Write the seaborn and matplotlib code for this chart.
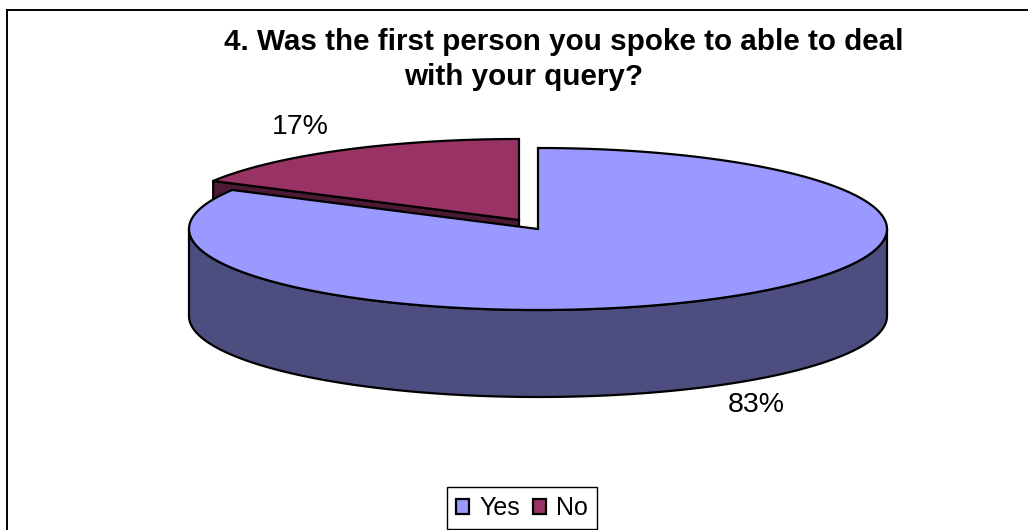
#!/usr/bin/env python3
"""3D style pie chart: was the first person able to deal with the query"""

import numpy as np
import matplotlib
matplotlib.use('Agg')
import matplotlib.pyplot as plt
from matplotlib.patches import Patch, Polygon
import seaborn as sns

labels = ['Yes', 'No']
shares = [83, 17]
share_text = ['83%', '17%']
title_lines = ['4. Was the first person you spoke to able to deal', 'with your query?']

colors = sns.color_palette(['#9999FF', '#993366'])
side_colors = sns.color_palette(['#4D4D80', '#4D1A33'])

sns.set_theme(style='white')
plt.rcParams['font.family'] = ['Liberation Sans', 'DejaVu Sans']

# ellipse layout in pixels
RX, RY = 349, 81
DEPTH = 87
YES_CENTER = (538, 229)
NO_CENTER = (519, 220)


def rim(center, a0, a1):
    """points on the top rim, angle is clockwise from 12 o'clock"""
    t = np.radians(np.linspace(a0, a1, 400))
    return np.column_stack([center[0] + RX * np.sin(t), center[1] - RY * np.cos(t)])


def draw_poly(ax, pts, color):
    ax.add_patch(Polygon(pts, closed=True, facecolor=color, edgecolor='black', linewidth=1.6, joinstyle='miter'))


fig = plt.figure(figsize=(10.28, 5.30), dpi=100)
ax = fig.add_axes([0, 0, 1, 1])
ax.set_xlim(0, 1028)
ax.set_ylim(530, 0)
ax.axis('off')

yes_sweep = 360 * shares[0] / sum(shares)

# No slice first, the Yes slice hides most of its side
no_rim = rim(NO_CENTER, yes_sweep, 360)
no_edge = np.array([no_rim[0], NO_CENTER])
draw_poly(ax, np.vstack([no_edge, no_edge[::-1] + [0, DEPTH]]), side_colors[1])
draw_poly(ax, np.vstack([[NO_CENTER], no_rim]), colors[1])

# visible wall of the Yes slice runs from 3 o'clock round the front to 9 o'clock
front = rim(YES_CENTER, 90, 270)
draw_poly(ax, np.vstack([front, front[::-1] + [0, DEPTH]]), side_colors[0])
draw_poly(ax, np.vstack([[YES_CENTER], rim(YES_CENTER, 0, yes_sweep)]), colors[0])

# first title line sits right of the second one in the original
ax.text(563.5, 42, title_lines[0], ha='center', va='center', fontsize=21.35, fontweight='bold', color='black')
ax.text(524, 77, title_lines[1], ha='center', va='center', fontsize=21.35, fontweight='bold', color='black')
ax.text(756.5, 405, share_text[0], ha='center', va='center', fontsize=20.5, color='black')
ax.text(300, 127, share_text[1], ha='center', va='center', fontsize=20.5, color='black')

handles = [Patch(facecolor=c, edgecolor='black', linewidth=1.6) for c in colors]
ax.legend(handles, labels, ncol=2, loc='center', bbox_to_anchor=(522 / 1028, 1 - 508 / 530),
          fontsize=18, frameon=True, fancybox=False, edgecolor='black', framealpha=1, labelcolor='black',
          handlelength=0.55, handleheight=0.55, handletextpad=0.4, columnspacing=0.5,
          borderpad=0.36, borderaxespad=0)

# chart frame only shows on the left and top
ax.plot([7, 7, 1028], [530, 10, 10], color='black', linewidth=1.4, solid_joinstyle='miter')

fig.savefig('out.png', dpi=100)
plt.close(fig)
